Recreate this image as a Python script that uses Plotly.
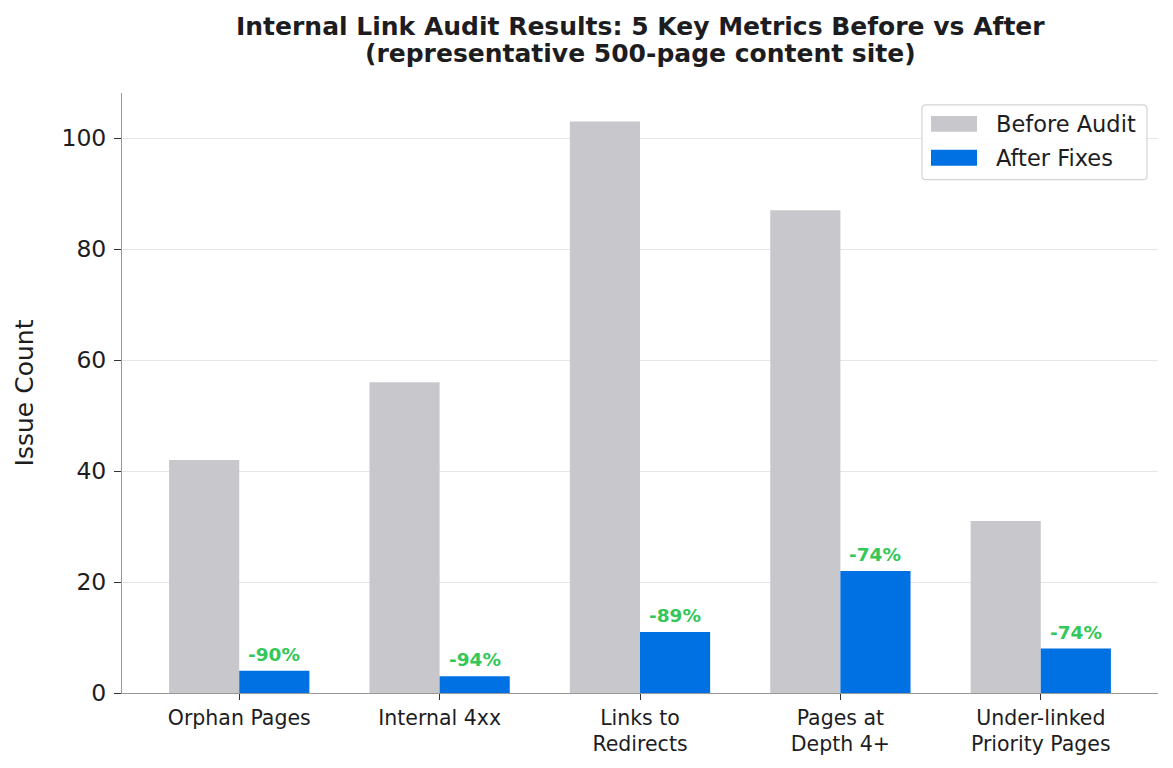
import plotly.graph_objects as go

categories = ["Orphan Pages", "Internal 4xx", "Links to<br>Redirects", "Pages at<br>Depth 4+", "Under-linked<br>Priority Pages"]
before_audit = [42, 56, 103, 87, 31]
after_fixes = [4, 3, 11, 22, 8]
change_labels = ["-90%", "-94%", "-89%", "-74%", "-74%"]
series_names = ["Before Audit", "After Fixes"]
series_colors = ["#c7c7cc", "#0071e3"]

FONT = "DejaVu Sans"
TXT = "#1d1d1f"
L, R, T, B, W, H = 122, 15, 93, 73, 1173, 768
PW, PH = W - L - R, H - T - B


def px(xp):
    return (xp - L) / PW


def py(yp):
    return (H - B - yp) / PH


fig = go.Figure()
for name, vals, col in zip(series_names, [before_audit, after_fixes], series_colors):
    fig.add_trace(go.Bar(x=categories, y=vals, name=name, showlegend=False,
                         marker=dict(color=col, line=dict(width=0))))

for cat, val, lab in zip(categories, after_fixes, change_labels):
    fig.add_annotation(x=cat, y=val, xref="x", yref="y", text=f"<b>{lab}</b>",
                       showarrow=False, xshift=35, yshift=4, yanchor="bottom",
                       font=dict(size=18.5, family=FONT, color="#34c759"))

for line, ypix in [("Internal Link Audit Results: 5 Key Metrics Before vs After", 26),
                   ("(representative 500-page content site)", 53)]:
    fig.add_annotation(xref="paper", yref="paper", x=0.5, y=py(ypix),
                       xanchor="center", yanchor="middle", showarrow=False,
                       text=f"<b>{line}</b>", font=dict(size=25, family=FONT, color=TXT))

# legend (drawn manually to match wide patches)
x0, x1, y0, y1, r = 922, 1147, 105, 180, 4
path = (f"M {px(x0 + r)},{py(y0)} L {px(x1 - r)},{py(y0)} Q {px(x1)},{py(y0)} {px(x1)},{py(y0 + r)} "
        f"L {px(x1)},{py(y1 - r)} Q {px(x1)},{py(y1)} {px(x1 - r)},{py(y1)} "
        f"L {px(x0 + r)},{py(y1)} Q {px(x0)},{py(y1)} {px(x0)},{py(y1 - r)} "
        f"L {px(x0)},{py(y0 + r)} Q {px(x0)},{py(y0)} {px(x0 + r)},{py(y0)} Z")
fig.add_shape(type="path", path=path, xref="paper", yref="paper",
              fillcolor="rgba(255,255,255,0.85)", line=dict(color="#d4d4d4", width=1.2))
for i, (name, col) in enumerate(zip(series_names, series_colors)):
    yc = 124 + i * 34
    fig.add_shape(type="rect", xref="paper", yref="paper",
                  x0=px(931), x1=px(977), y0=py(yc - 8), y1=py(yc + 8),
                  fillcolor=col, line=dict(width=0))
    fig.add_annotation(xref="paper", yref="paper", x=px(994), y=py(yc),
                       xanchor="left", yanchor="middle", showarrow=False,
                       text=name, font=dict(size=22.5, family=FONT, color=TXT))

fig.update_layout(
    width=W, height=H,
    margin=dict(l=L, r=R, t=T, b=B),
    paper_bgcolor="white", plot_bgcolor="white",
    font=dict(family=FONT, color=TXT),
    barmode="group", bargap=0.3, bargroupgap=0,
    showlegend=False,
)
fig.update_xaxes(range=[-0.585, 4.585], showline=True, linecolor="#999999", linewidth=1,
                 ticks="outside", ticklen=6, tickcolor="#333333",
                 tickfont=dict(size=20.5, family=FONT, color=TXT), showgrid=False)
fig.update_yaxes(range=[0, 108.15], showline=True, linecolor="#999999", linewidth=1,
                 ticks="outside", ticklen=7, tickcolor="#333333", ticklabelstandoff=3,
                 tickvals=[0, 20, 40, 60, 80, 100],
                 tickfont=dict(size=23.5, family=FONT, color=TXT),
                 showgrid=True, gridcolor="#e6e6e6", gridwidth=1, zeroline=False,
                 title=dict(text="Issue Count", font=dict(size=25, family=FONT, color=TXT), standoff=20))

fig.write_html("out.html")
